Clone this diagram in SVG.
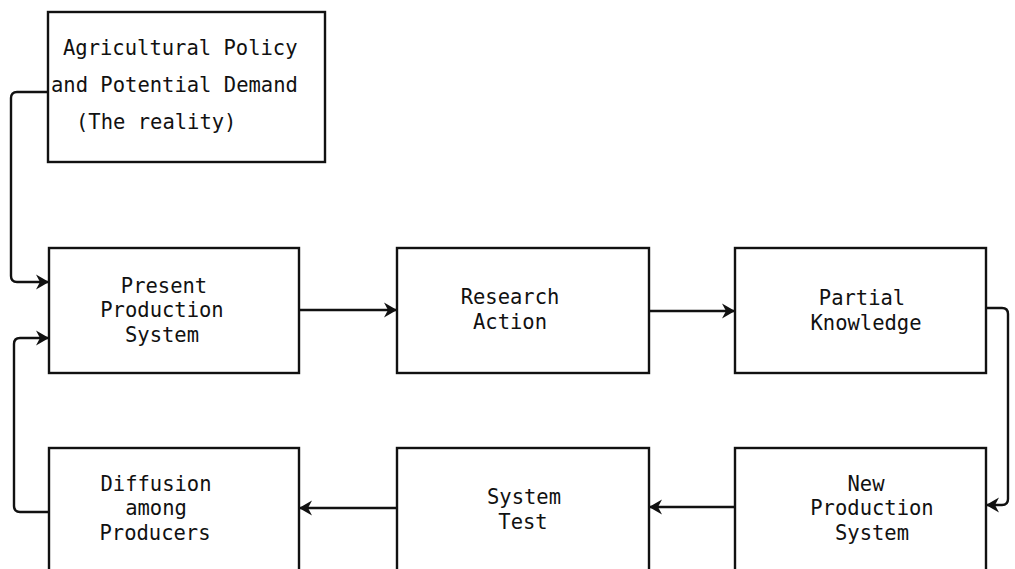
<svg xmlns="http://www.w3.org/2000/svg" width="1015" height="569" viewBox="0 0 1015 569">
<style>
.box{fill:#fff;stroke:#111;stroke-width:2.4}
.t{font-family:"DejaVu Sans Mono","Liberation Mono",monospace;font-size:20.5px;fill:#111}
.m{text-anchor:middle}
.c{fill:none;stroke:#111;stroke-width:2.4;stroke-linejoin:round}
</style>
<defs>
<marker id="ah" markerUnits="userSpaceOnUse" markerWidth="16" markerHeight="18" refX="12" refY="9" orient="auto">
<path d="M0,1.5 L13,9 L0,16.5 L4,9 z" fill="#111"/>
</marker>
</defs>
<rect width="1015" height="569" fill="#fff"/>
<g id="connectors">
<path class="c" d="M48,92 H17 Q11,92 11,98 V276 Q11,282 17,282 H48" marker-end="url(#ah)"/>
<path class="c" d="M48,512 H20 Q14,512 14,506 V344 Q14,338 20,338 H48" marker-end="url(#ah)"/>
<path class="c" d="M299,310 H396" marker-end="url(#ah)"/>
<path class="c" d="M649,311 H734" marker-end="url(#ah)"/>
<path class="c" d="M986,308 H1002 Q1008,308 1008,314 V499 Q1008,505 1002,505 H987" marker-end="url(#ah)"/>
<path class="c" d="M735,507 H650" marker-end="url(#ah)"/>
<path class="c" d="M397,508 H300" marker-end="url(#ah)"/>
</g>
<g id="n_policy">
<rect class="box" x="48" y="12" width="277" height="150"/>
<text class="t" x="63" y="55">Agricultural Policy</text>
<text class="t" x="51" y="92">and Potential Demand</text>
<text class="t" x="76" y="129">(The reality)</text>
</g>
<g id="n_present">
<rect class="box" x="49" y="248" width="250" height="125"/>
<text class="t m" x="164" y="293">Present</text>
<text class="t m" x="162" y="317">Production</text>
<text class="t m" x="162" y="342">System</text>
</g>
<g id="n_research">
<rect class="box" x="397" y="248" width="252" height="125"/>
<text class="t m" x="510" y="304">Research</text>
<text class="t m" x="510" y="329">Action</text>
</g>
<g id="n_partial">
<rect class="box" x="735" y="248" width="251" height="125"/>
<text class="t m" x="862" y="305">Partial</text>
<text class="t m" x="866" y="330">Knowledge</text>
</g>
<g id="n_diffusion">
<rect class="box" x="49" y="448" width="250" height="160"/>
<text class="t m" x="156" y="491">Diffusion</text>
<text class="t m" x="156" y="515">among</text>
<text class="t m" x="155" y="540">Producers</text>
</g>
<g id="n_systemtest">
<rect class="box" x="397" y="448" width="252" height="160"/>
<text class="t m" x="524" y="504">System</text>
<text class="t m" x="523" y="529">Test</text>
</g>
<g id="n_new">
<rect class="box" x="735" y="448" width="251" height="160"/>
<text class="t m" x="866" y="491">New</text>
<text class="t m" x="872" y="515">Production</text>
<text class="t m" x="872" y="540">System</text>
</g>
</svg>
